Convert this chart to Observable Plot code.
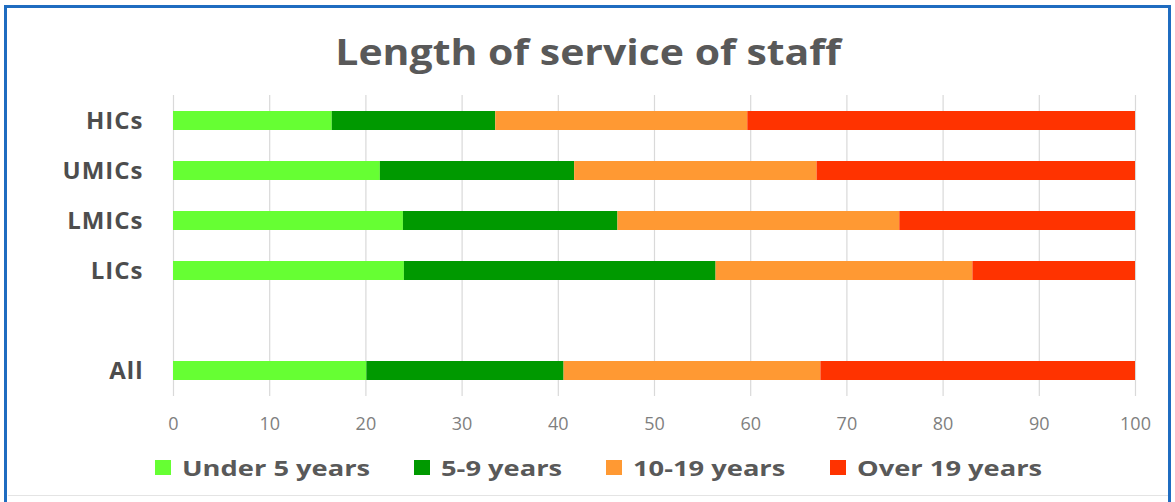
<!DOCTYPE html>
<html>
<head>
<meta charset="utf-8">
<script src="https://cdn.jsdelivr.net/npm/d3@7"></script>
<script src="https://cdn.jsdelivr.net/npm/@observablehq/plot@0.6"></script>
<style>
  body { margin: 0; background: #ffffff; }
  #wrap { position: relative; width: 1175px; height: 502px; overflow: hidden; font-family: "Open Sans", sans-serif; background: #fff; }
  #frame { position: absolute; left: 4px; top: 5px; width: 1167px; height: 530px; border: 3px solid #1f6cc0; box-sizing: border-box; }
  #bottomline { position: absolute; left: 8px; width: 1160px; top: 495px; height: 1px; background: #e4e4e4; }
  #title { position: absolute; left: 0; top: 34px; width: 1176px; text-align: center; line-height: 35px; }
  #title span { display: inline-block; font-size: 35px; font-weight: 700; color: #595959; transform: scaleX(1.17); }
  #chart { position: absolute; left: 0; top: 80px; }
  #legend { position: absolute; left: 155px; top: 452px; height: 30px; display: flex; align-items: center; }
  .item { display: flex; align-items: center; margin-right: 44px; }
  .sw { width: 16px; height: 15px; margin-right: 11px; flex: none; }
  .labw { height: 30px; overflow: visible; }
  .lab { display: inline-block; font-size: 22px; font-weight: 700; color: #595959; line-height: 30px; white-space: nowrap; transform-origin: 0 50%; transform: scaleX(1.24); }
  #chart svg g[aria-label="x-axis tick label"] { fill: #7f7f7f; }
  #chart svg g[aria-label="y-axis tick label"] { fill: #4d4d4d; letter-spacing: 1px; }
</style>
</head>
<body>
<div id="wrap">
  <div id="frame"></div>
  <div id="bottomline"></div>
  <div id="title"><span>Length of service of staff</span></div>
  <div id="chart"></div>
  <div id="legend"></div>
</div>
<script>
// Data (percent of staff)
const groups = ["HICs", "UMICs", "LMICs", "LICs", "All"];
const yDomain = ["HICs", "UMICs", "LMICs", "LICs", " ", "All"];
const categories = ["Under 5 years", "5-9 years", "10-19 years", "Over 19 years"];
const under5 = [16.5, 21.5, 23.9, 24.0, 20.1];
const y5to9 = [17.0, 20.2, 22.3, 32.4, 20.5];
const y10to19 = [26.2, 25.2, 29.3, 26.7, 26.7];
const over19 = [40.3, 33.1, 24.5, 16.9, 32.7];
const colors = ["#66ff33", "#009900", "#ff9933", "#ff3300"];
const xTicks = [0, 10, 20, 30, 40, 50, 60, 70, 80, 90, 100];

const series = [under5, y5to9, y10to19, over19];
const rows = groups.flatMap((g, i) => categories.map((c, j) => ({group: g, cat: c, value: series[j][i]})));

const chart = Plot.plot({
  width: 1175,
  height: 360,
  marginTop: 15,
  marginBottom: 44,
  marginLeft: 173,
  marginRight: 40,
  style: {fontFamily: "Open Sans, sans-serif", background: "transparent"},
  x: {domain: [0, 100]},
  y: {domain: yDomain, paddingInner: 0.62, paddingOuter: 0.27},
  color: {domain: categories, range: colors},
  marks: [
    Plot.gridX(xTicks, {stroke: "#d9d9d9", strokeOpacity: 1, strokeWidth: 1.2}),
    Plot.barX(rows, Plot.stackX({x: "value", y: "group", fill: "cat"})),
    Plot.axisX({ticks: xTicks, tickSize: 0, tickPadding: 21, fontSize: 18, label: null}),
    Plot.axisY({tickSize: 0, tickPadding: 30, fontSize: 24, fontWeight: 700, label: null, tickFormat: d => d.trim()})
  ]
});
document.getElementById("chart").appendChild(chart);

const legend = d3.select("#legend");
categories.forEach((c, i) => {
  const it = legend.append("div").attr("class", "item");
  it.append("div").attr("class", "sw").style("background", colors[i]);
  const w = it.append("div").attr("class", "labw");
  w.append("span").attr("class", "lab").text(c);
});
// size each label wrapper to the stretched text width
legend.selectAll(".labw").each(function () {
  const s = this.querySelector(".lab");
  this.style.width = s.getBoundingClientRect().width + "px";
});
</script>
</body>
</html>
